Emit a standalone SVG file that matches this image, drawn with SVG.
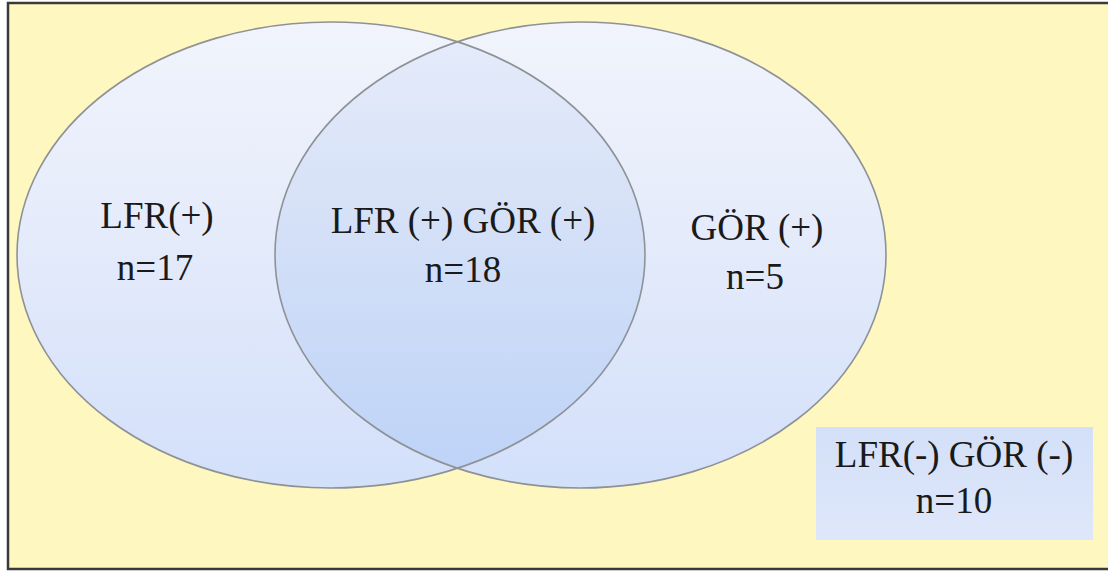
<svg xmlns="http://www.w3.org/2000/svg" width="1108" height="574" viewBox="0 0 1108 574">
<style>
.t{font-family:"Liberation Serif","Times New Roman",serif;font-size:37px;fill:#1a1a1a;text-anchor:middle}
.ol{fill:none;stroke:#8e9296;stroke-width:1.6}
</style>
<defs>
<linearGradient id="gEll" x1="0" y1="0" x2="0" y2="1">
<stop offset="0" stop-color="#F1F4FC"/>
<stop offset="0.5" stop-color="#E3EAFA"/>
<stop offset="1" stop-color="#D3E0FA"/>
</linearGradient>
<linearGradient id="gOv" x1="0" y1="0" x2="0" y2="1">
<stop offset="0" stop-color="#E6ECFA"/>
<stop offset="0.45" stop-color="#D4E0F7"/>
<stop offset="1" stop-color="#BCD2F8"/>
</linearGradient>
<linearGradient id="gBox" x1="0" y1="0" x2="0" y2="1">
<stop offset="0" stop-color="#D3E0F8"/>
<stop offset="1" stop-color="#DFE7FA"/>
</linearGradient>
<clipPath id="cR"><ellipse cx="580.5" cy="255" rx="305.5" ry="233"/></clipPath>
</defs>
<rect x="0" y="0" width="1108" height="574" fill="#ffffff"/>
<rect x="8" y="3" width="1102" height="566" fill="#FFF7C0" stroke="#3a3a3a" stroke-width="2.5"/>
<g id="setLFR">
<ellipse cx="331" cy="255" rx="314" ry="233" fill="url(#gEll)"/>
</g>
<g id="setGOR">
<ellipse cx="580.5" cy="255" rx="305.5" ry="233" fill="url(#gEll)"/>
</g>
<g id="overlap">
<ellipse cx="331" cy="255" rx="314" ry="233" fill="url(#gOv)" clip-path="url(#cR)"/>
</g>
<g id="outlines">
<ellipse class="ol" cx="331" cy="255" rx="314" ry="233"/>
<ellipse class="ol" cx="580.5" cy="255" rx="305.5" ry="233"/>
</g>
<g id="labelLFR">
<text class="t" x="157" y="228">LFR(+)</text>
<text class="t" x="155" y="280">n=17</text>
</g>
<g id="labelBoth">
<text class="t" x="463" y="233">LFR (+) GÖR (+)</text>
<text class="t" x="463" y="282">n=18</text>
</g>
<g id="labelGOR">
<text class="t" x="757" y="240">GÖR (+)</text>
<text class="t" x="755" y="289">n=5</text>
</g>
<g id="neither">
<rect x="816" y="427" width="277" height="113" fill="url(#gBox)"/>
<text class="t" x="954" y="467">LFR(-) GÖR (-)</text>
<text class="t" x="954" y="513">n=10</text>
</g>
</svg>
